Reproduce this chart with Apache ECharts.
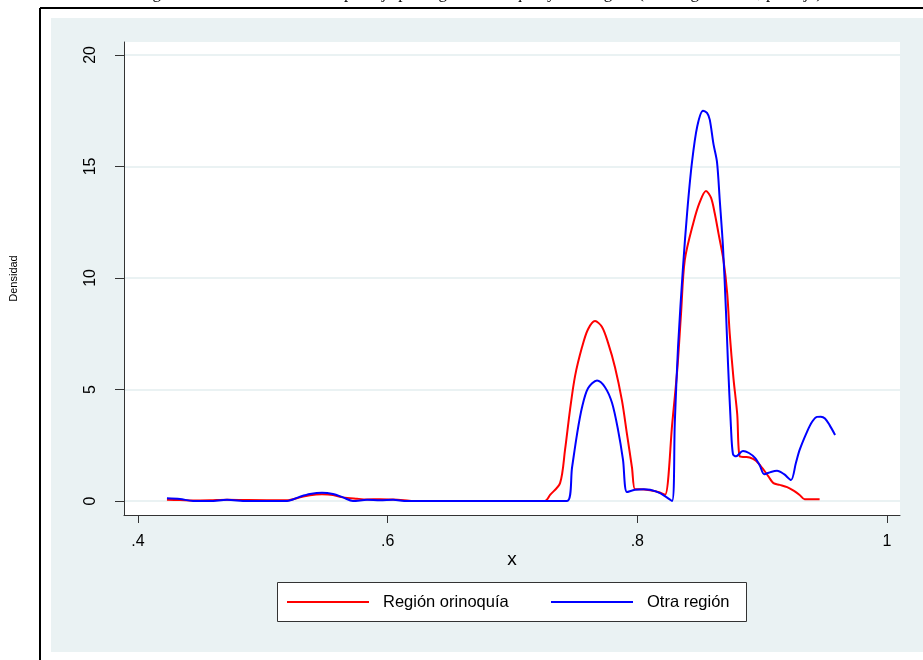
<!DOCTYPE html>
<html>
<head>
<meta charset="utf-8">
<script src="https://cdn.jsdelivr.net/npm/echarts@6/dist/echarts.min.js"></script>
<style>
html,body{margin:0;padding:0;background:#fff;}
#chart{width:923px;height:660px;}
</style>
</head>
<body>
<div id="chart"></div>
<script>
// ---- data ----
const seriesNames = ['Región orinoquía', 'Otra región'];

const redX = [0.4232, 0.4336, 0.4441, 0.4577, 0.4713, 0.4873, 0.5194, 0.5298, 0.5378, 0.5474, 0.5562, 0.5642, 0.5754, 0.5835, 0.5939, 0.6043, 0.6155, 0.6203, 0.66, 0.70, 0.7260,
  0.7301, 0.7381, 0.7421, 0.7461, 0.7501, 0.7557, 0.7605, 0.7661, 0.7717, 0.7765, 0.7821, 0.7877, 0.7917, 0.7957, 0.7981, 0.8021, 0.8102, 0.8180, 0.8222,
  0.8280, 0.8320, 0.8350, 0.8380, 0.8450, 0.8500, 0.8550, 0.8590, 0.8620, 0.8650, 0.8690, 0.8720, 0.8740, 0.8770, 0.8800, 0.8820,
  0.8860, 0.8900, 0.8950, 0.9000, 0.9050, 0.9090, 0.9140, 0.9200, 0.9255, 0.9300, 0.9340, 0.9460];
const redY = [0.05, 0.04, 0.02, 0.03, 0.05, 0.04, 0.03, 0.16, 0.26, 0.30, 0.27, 0.16, 0.10, 0.07, 0.08, 0.06, 0.02, 0.0, 0.0, 0.0, 0.0,
  0.27, 0.80, 2.3, 4.1, 5.6, 6.9, 7.7, 8.07, 7.8, 7.1, 6.0, 4.5, 3.0, 1.5, 0.53, 0.53, 0.48, 0.38, 0.27,
  3.5, 5.9, 8.4, 10.8, 12.5, 13.4, 13.9, 13.6, 12.9, 12.0, 10.8, 9.3, 7.5, 5.5, 3.9, 2.0,
  1.97, 1.95, 1.8, 1.48, 1.1, 0.8, 0.72, 0.62, 0.45, 0.27, 0.08, 0.08];

const blueX = [0.4232, 0.4336, 0.4441, 0.4577, 0.4713, 0.4873, 0.5194, 0.5298, 0.5378, 0.5474, 0.5562, 0.5642, 0.5722, 0.5835, 0.5939, 0.6043, 0.6155, 0.6259, 0.66, 0.70, 0.7437,
  0.7477, 0.7517, 0.7557, 0.7605, 0.7677, 0.7741, 0.7797, 0.7845, 0.7885, 0.7917, 0.7981, 0.8050, 0.8102, 0.8182, 0.8278,
  0.8300, 0.8326, 0.8366, 0.8400, 0.8438, 0.8480, 0.8526, 0.8558, 0.8580, 0.8610, 0.8638, 0.8660, 0.8686, 0.8710, 0.8726, 0.8750, 0.8766, 0.8790,
  0.8846, 0.8894, 0.8942, 0.8980, 0.9017, 0.9070, 0.9119, 0.9175, 0.9231, 0.9270, 0.9300, 0.9359, 0.9400, 0.9439, 0.9470, 0.9503, 0.9540, 0.9584];
const blueY = [0.12, 0.09, 0.0, 0.0, 0.05, 0.0, 0.0, 0.19, 0.31, 0.37, 0.31, 0.16, 0.0, 0.05, 0.03, 0.05, 0.0, 0.0, 0.0, 0.0, 0.0,
  1.5, 3.0, 4.2, 5.05, 5.4, 5.1, 4.4, 3.2, 1.85, 0.4, 0.5, 0.53, 0.5, 0.35, 0.0,
  3.5, 6.9, 10.5, 13.0, 15.2, 16.8, 17.5, 17.4, 17.1, 16.0, 15.2, 13.5, 11.4, 8.5, 6.2, 3.3, 2.1, 2.0,
  2.24, 2.15, 1.93, 1.6, 1.2, 1.3, 1.35, 1.2, 0.94, 1.7, 2.29, 3.1, 3.55, 3.77, 3.78, 3.7, 3.4, 2.96];

const xTickValues = [0.4, 0.6, 0.8, 1.0];
const xTickLabels = ['.4', '.6', '.8', '1'];
const yTickValues = [0, 5, 10, 15, 20];
const yTickLabels = ['0', '5', '10', '15', '20'];

const titleText = 'Figura 4. Densidad kernel del puntaje por región: orinoquía y otra región (kernel gaussiano, puntaje)';

// ---- chart ----
const chart = echarts.init(document.getElementById('chart'), null, {renderer: 'canvas'});
const font = 'Liberation Sans, Arial, sans-serif';
const zip = (xs, ys) => xs.map((x, i) => [x, ys[i]]);

chart.setOption({
  backgroundColor: '#ffffff',
  animation: false,
  graphic: [
    {type: 'rect', z: -10, silent: true, shape: {x: 51, y: 18, width: 872, height: 634}, style: {fill: '#eaf2f3'}},
    {type: 'line', z: 5, silent: true, shape: {x1: 40, y1: 8, x2: 923, y2: 8}, style: {stroke: '#000', lineWidth: 2}},
    {type: 'line', z: 5, silent: true, shape: {x1: 40, y1: 8, x2: 40, y2: 660}, style: {stroke: '#000', lineWidth: 2}},
    {type: 'text', z: 5, silent: true, x: 480, y: 2, style: {text: titleText, font: '17px "Liberation Serif", "Times New Roman", serif', fill: '#000', align: 'center', verticalAlign: 'bottom'}},
    {type: 'rect', z: 3, silent: true, shape: {x: 277.5, y: 582.5, width: 469, height: 39}, style: {fill: '#ffffff', stroke: '#333333', lineWidth: 1}}
  ],
  grid: {
    left: 124, right: 23, top: 42, bottom: 145,
    show: true, backgroundColor: '#ffffff', borderWidth: 0
  },
  legend: [
    {
      data: [seriesNames[0]], left: 287, top: 592, padding: 0, selectedMode: false,
      icon: 'rect', itemWidth: 82, itemHeight: 2,
      textStyle: {fontFamily: font, fontSize: 16.5, color: '#000', lineHeight: 20, padding: [0, 0, 0, 9]}
    },
    {
      data: [seriesNames[1]], left: 551, top: 592, padding: 0, selectedMode: false,
      icon: 'rect', itemWidth: 82, itemHeight: 2,
      textStyle: {fontFamily: font, fontSize: 16.5, color: '#000', lineHeight: 20, padding: [0, 0, 0, 9]}
    }
  ],
  xAxis: {
    type: 'value', min: 0.3888, max: 1.0104,
    name: 'x', nameLocation: 'middle', nameGap: 35, nameMoveOverlap: false,
    nameTextStyle: {fontFamily: font, fontSize: 19, color: '#000'},
    axisLine: {show: true, onZero: false, lineStyle: {color: '#333', width: 1}},
    axisTick: {show: true, length: 8, customValues: xTickValues, lineStyle: {color: '#333'}},
    axisLabel: {
      customValues: xTickValues, margin: 19, fontFamily: font, fontSize: 16, color: '#000',
      formatter: v => { const i = xTickValues.findIndex(t => Math.abs(t - v) < 1e-6); return i >= 0 ? xTickLabels[i] : ''; }
    },
    splitLine: {show: false}
  },
  yAxis: {
    type: 'value', min: -0.63, max: 20.58,
    name: 'Densidad', nameLocation: 'middle', nameGap: 105, nameMoveOverlap: false,
    nameTextStyle: {fontFamily: font, fontSize: 11, color: '#000'},
    axisLine: {show: true, onZero: false, lineStyle: {color: '#333', width: 1}},
    axisTick: {show: true, length: 9, customValues: yTickValues, lineStyle: {color: '#333'}},
    axisLabel: {
      customValues: yTickValues, rotate: 90, margin: 25, fontFamily: font, fontSize: 16, color: '#000',
      formatter: v => { const i = yTickValues.findIndex(t => Math.abs(t - v) < 1e-6); return i >= 0 ? yTickLabels[i] : ''; }
    },
    splitLine: {show: true, lineStyle: {color: '#eaf2f3', width: 2}}
  },
  series: [
    {
      name: seriesNames[0], type: 'line', data: zip(redX, redY),
      showSymbol: false, symbol: 'none', color: '#ff0000', smooth: 0.3,
      lineStyle: {color: '#ff0000', width: 2}, z: 2
    },
    {
      name: seriesNames[1], type: 'line', data: zip(blueX, blueY),
      showSymbol: false, symbol: 'none', color: '#0000ff', smooth: 0.3,
      lineStyle: {color: '#0000ff', width: 2}, z: 3
    }
  ]
});
</script>
</body>
</html>
